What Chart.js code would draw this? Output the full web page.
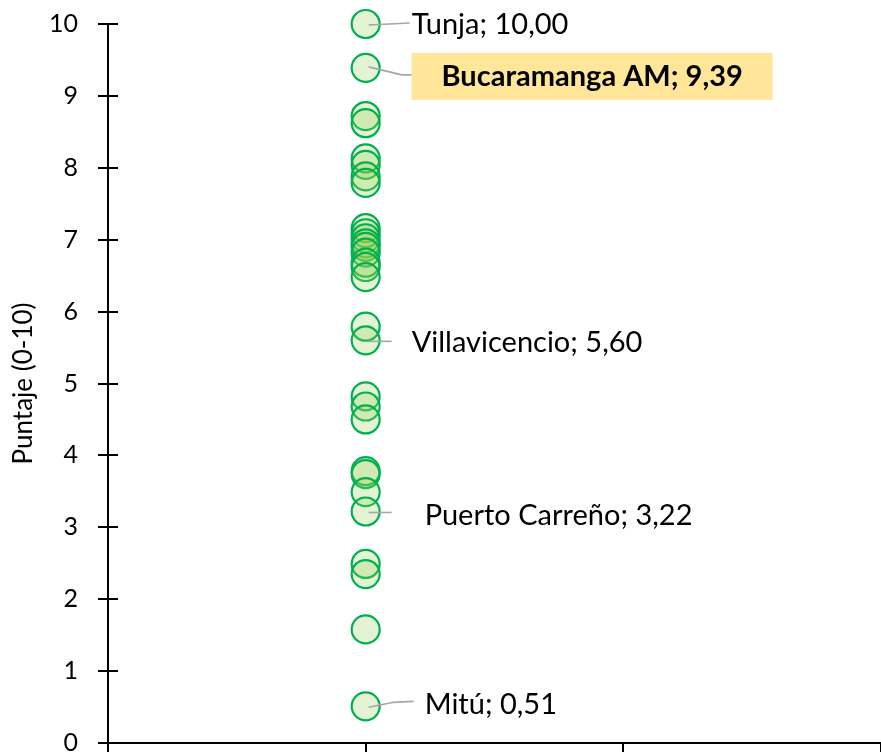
<!DOCTYPE html>
<html lang="es">
<head>
<meta charset="utf-8">
<title>Puntaje (0-10)</title>
<script src="https://cdn.jsdelivr.net/npm/chart.js@4.4.1/dist/chart.umd.min.js"></script>
<style>
    html, body { margin: 0; padding: 0; background: #fff; }
    #wrap { width: 881px; height: 756px; position: relative; }
</style>
</head>
<body>
<div id="wrap"><canvas id="puntajeChart"></canvas></div>
<script>
// datos
const puntajes = [10.00, 9.39, 8.72, 8.62, 8.13, 8.04, 7.88, 7.79, 7.16, 7.09, 7.02, 6.95, 6.90, 6.82,
    6.68, 6.62, 6.48, 5.79, 5.60, 4.82, 4.68, 4.50, 3.78, 3.74, 3.49, 3.22, 2.49, 2.35, 1.58, 0.51];
const ciudadesEtiqueta = ['Tunja', 'Bucaramanga AM', 'Villavicencio', 'Puerto Carreño', 'Mitú'];
const valoresEtiqueta = [10.00, 9.39, 5.60, 3.22, 0.51];
const ticksY = [0, 1, 2, 3, 4, 5, 6, 7, 8, 9, 10];
const tituloY = 'Puntaje (0-10)';

// ubicacion de cada etiqueta respecto al punto (px)
const posEtiquetas = [
    { tx: 46, ty: 1, linea: [[3, 1], [44, -1]] },
    { tx: 46, ty: 9, linea: [[3, -1], [36, 7], [46, 7]], caja: [46, -15, 361, 47] },
    { tx: 46, ty: 2, linea: [[3, 1], [26, 1]] },
    { tx: 59, ty: 4, linea: [[3, 1], [26, 1]] },
    { tx: 59, ty: -2, linea: [[3, 1], [28, -4], [48, -5]] }
];

const FUENTE = 'Lato, "Open Sans", sans-serif';

const formatoValor = (v) => v.toFixed(2).replace('.', ',');

const etiquetasPlugin = {
    id: 'etiquetas',
    afterDatasetsDraw(chart) {
        const { ctx, scales } = chart;
        const px = scales.x.getPixelForValue(1);
        ctx.save();
        ciudadesEtiqueta.forEach((nombre, i) => {
            const py = scales.y.getPixelForValue(valoresEtiqueta[i]);
            const pos = posEtiquetas[i];
            ctx.strokeStyle = '#a6a6a6';
            ctx.lineWidth = 1.6;
            ctx.beginPath();
            pos.linea.forEach((p, k) => {
                if (k === 0) ctx.moveTo(px + p[0], py + p[1]);
                else ctx.lineTo(px + p[0], py + p[1]);
            });
            ctx.stroke();

            const texto = `${nombre}; ${formatoValor(valoresEtiqueta[i])}`;
            ctx.fillStyle = '#000';
            ctx.textBaseline = 'middle';
            if (pos.caja) {
                const [bx, by, bw, bh] = pos.caja;
                ctx.fillStyle = '#ffe699';
                ctx.fillRect(px + bx, py + by, bw, bh);
                ctx.fillStyle = '#000';
                ctx.font = 'bold 29px ' + FUENTE;
                ctx.textAlign = 'center';
                ctx.fillText(texto, px + bx + bw / 2, py + pos.ty);
            } else {
                ctx.font = '29px ' + FUENTE;
                ctx.textAlign = 'left';
                ctx.fillText(texto, px + pos.tx, py + pos.ty);
            }
        });
        ctx.restore();
    },
    afterDraw(chart) {
        // marcas del eje Y cruzando hacia dentro
        const { ctx, scales } = chart;
        const x0 = scales.y.right;
        ctx.save();
        ctx.strokeStyle = '#000';
        ctx.lineWidth = 2;
        ticksY.forEach(t => {
            const y = Math.round(scales.y.getPixelForValue(t));
            ctx.beginPath();
            ctx.moveTo(x0, y);
            ctx.lineTo(x0 + 10, y);
            ctx.stroke();
        });
        ctx.restore();
    }
};

document.addEventListener('DOMContentLoaded', function() {
    const ctx = document.getElementById('puntajeChart');
    new Chart(ctx, {
        type: 'scatter',
        data: {
            datasets: [{
                data: puntajes.map(v => ({ x: 1, y: v })),
                backgroundColor: 'rgba(146, 208, 80, 0.25)',
                borderColor: '#00b050',
                borderWidth: 2.2,
                pointRadius: 14,
                pointHoverRadius: 14,
                clip: false
            }]
        },
        options: {
            responsive: true,
            maintainAspectRatio: false,
            animation: false,
            layout: { autoPadding: false, padding: { top: 24, left: 0, right: 0, bottom: 0 } },
            plugins: {
                legend: { display: false },
                tooltip: { enabled: false }
            },
            scales: {
                x: {
                    type: 'linear',
                    min: 0,
                    max: 3,
                    ticks: { display: false, stepSize: 1 },
                    grid: { drawOnChartArea: false, drawTicks: true, tickLength: 9, color: '#000', lineWidth: 2 },
                    border: { color: '#000', width: 2 },
                    afterFit: (scale) => { scale.height = 13; }
                },
                y: {
                    min: 0,
                    max: 10,
                    afterBuildTicks: (scale) => { scale.ticks = ticksY.map(v => ({ value: v })); },
                    ticks: {
                        color: '#000',
                        padding: 20,
                        font: { family: FUENTE, size: 25, lineHeight: 1 }
                    },
                    grid: { drawOnChartArea: false, drawTicks: true, tickLength: 10, color: '#000', lineWidth: 2 },
                    border: { color: '#000', width: 2 },
                    title: {
                        display: true,
                        text: tituloY,
                        color: '#000',
                        padding: { top: 8, bottom: 0 },
                        font: { family: FUENTE, size: 26 }
                    },
                    afterFit: (scale) => {
                        scale.width = 108;
                        scale.paddingTop = 12;
                        scale.paddingBottom = 12;
                    }
                }
            }
        },
        plugins: [etiquetasPlugin]
    });
});
</script>
</body>
</html>
